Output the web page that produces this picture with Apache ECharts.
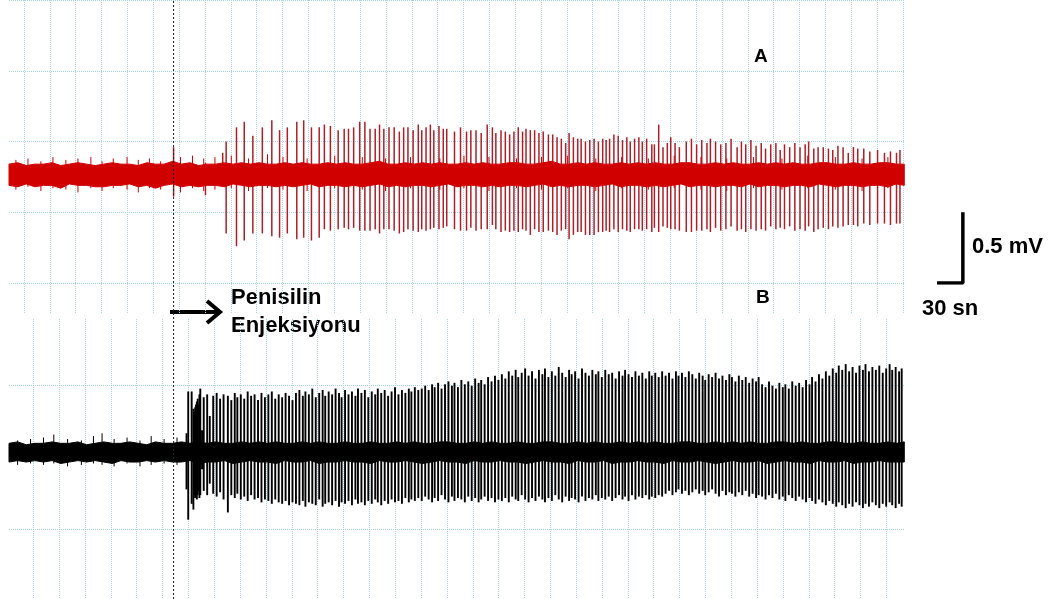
<!DOCTYPE html>
<html><head><meta charset="utf-8">
<script src="https://cdn.jsdelivr.net/npm/echarts@6/dist/echarts.min.js"></script>
<style>html,body{margin:0;padding:0;background:#fff}#c{width:1057px;height:599px}</style>
</head><body><div id="c"></div>
<script>
// ---- data (time in s, amplitude in mV relative to each trace's baseline) ----
const injectionT = 191;           // penicillin injection time (s)
const redBase = 0.77;             // trace A baseline (mV on panel A axis)
const blackBase = 0.535;          // trace B baseline (mV on panel B axis)
const scaleBarT = 1107;           // position of calibration bar (s)
const scaleBarMv = 0.5;           // calibration: 0.5 mV
const scaleBarSec = 30;           // calibration: 30 sn
const gridTicksX = 30;            // vertical grid every 30 s
const gridTicksY = 0.5;           // horizontal grid every 0.5 mV

// red trace spikes: [time, peak above baseline, trough below baseline]
const redSpikes = [
[191,.19,.16],[228,.08,.15],[248,.15,.07],
[252,.23,.42],[264,.33,.51],[273,.37,.47],[283,.27,.42],[294,.33,.42],[305,.38,.44],[314,.31,.45],[323,.33,.42],[334,.37,.46],[342,.38,.45],
[351,.33,.47],[360,.33,.45],[366,.35,.39],[373,.34,.40],[382,.31,.39],[389,.32,.38],[394,.32,.39],[400,.33,.38],[407,.37,.40],[413,.37,.40],
[419,.32,.40],[425,.32,.39],[430,.35,.42],[435,.32,.39],[441,.33,.39],[447,.33,.40],[453,.30,.42],[458,.33,.41],[463,.33,.39],[469,.31,.40],
[475,.35,.41],[479,.31,.39],[484,.33,.40],[489,.35,.39],[493,.31,.38],[499,.34,.39],[504,.32,.38],[508,.32,.37],
[517,.30,.39],[524,.33,.40],[531,.30,.40],[536,.31,.38],[542,.31,.40],[548,.29,.39],[555,.35,.39],[561,.33,.36],[565,.29,.39],[571,.31,.41],
[576,.30,.40],[581,.28,.41],[586,.30,.40],[591,.33,.41],[596,.30,.39],[600,.32,.40],[605,.31,.43],[610,.31,.39],[615,.29,.41],[620,.30,.41],
[626,.28,.40],[631,.28,.41],[636,.26,.43],[641,.25,.40],[646,.22,.39],[650,.29,.46],[655,.26,.43],[660,.25,.41],[664,.25,.41],[669,.23,.43],
[674,.24,.43],[679,.25,.43],[684,.23,.41],[689,.25,.41],[693,.24,.40],[697,.25,.41],[702,.28,.39],[707,.27,.41],[712,.24,.39],[717,.26,.40],
[721,.23,.41],[726,.25,.39],[731,.26,.39],[735,.23,.40],[740,.25,.39],[746,.21,.41],[749,.21,.38],[754,.35,.41],[759,.19,.37],[764,.22,.38],
[768,.26,.39],[773,.22,.39],[778,.19,.40],[786,.23,.41],[792,.25,.41],[798,.21,.40],[804,.24,.40],[810,.22,.39],[814,.25,.41],[820,.23,.38],
[826,.21,.40],[832,.22,.39],[838,.25,.37],[845,.19,.40],[850,.23,.39],[855,.21,.41],[861,.24,.39],[867,.20,.40],[873,.22,.39],[878,.18,.40],
[884,.21,.37],[890,.22,.39],[895,.17,.38],[900,.21,.39],[906,.19,.37],[912,.22,.40],[918,.19,.39],[924,.21,.40],[928,.23,.37],[934,.18,.41],
[939,.19,.39],[945,.19,.38],[951,.18,.39],[956,.17,.37],[962,.20,.38],[968,.19,.37],[974,.15,.36],[980,.19,.36],[985,.18,.37],[992,.18,.35],
[999,.16,.36],[1008,.17,.35],[1016,.15,.35],[1023,.16,.36],[1030,.15,.35],[1034,.17,.35]
];

// black trace spikes: [time, peak above baseline, trough below baseline]
const blackSpikes = [
[206,.13,.26],[208,.42,.47],[212,.42,.36],[214,.30,.40],[215,.28,.30],[216,.31,.32],[217,.33,.28],[218,.35,.33],[219,.37,.30],[220,.33,.27],
[221,.40,.32],[222,.44,.30],[224,.15,.12],
[226,.38,.27],[230,.40,.30],[233,.25,.22],[237,.39,.29],[241,.41,.31],[245,.37,.28],[249,.40,.33],[254,.39,.42],[258,.36,.30],[262,.41,.32],
[265,.38,.29],[269,.40,.33],[273,.37,.31],[277,.42,.34],[281,.39,.30],[285,.40,.33],[289,.36,.32],[293,.41,.35],[297,.38,.33],[301,.40,.34],
[305,.42,.36],[309,.37,.33],[313,.40,.35],[317,.38,.36],[321,.41,.34],[325,.39,.37],[329,.36,.35],
[333,.41,.36],[337,.43,.37],[341,.39,.34],[344,.42,.38],[348,.40,.35],[352,.44,.36],[356,.38,.37],[360,.41,.33],[364,.43,.38],[367,.39,.36],
[371,.42,.35],[375,.40,.37],[379,.44,.34],[383,.41,.38],[386,.38,.35],[390,.43,.36],[394,.40,.34],[398,.42,.37],[402,.39,.33],[405,.44,.36],
[409,.41,.35],[413,.43,.37],[417,.38,.34],[421,.42,.36],[425,.40,.33],[428,.44,.35],[432,.41,.37],[436,.43,.34],[440,.39,.36],[444,.42,.33],
[448,.45,.35],[452,.40,.34],[456,.43,.36],[460,.41,.32],[464,.44,.35],[467,.42,.33],[471,.45,.34],[475,.43,.32],
[479,.44,.34],[483,.46,.31],[487,.43,.33],[491,.47,.35],[494,.45,.32],[498,.48,.34],[502,.44,.30],[506,.47,.33],[510,.49,.35],[514,.46,.31],
[517,.48,.34],[521,.45,.32],[525,.50,.33],[529,.47,.35],[533,.49,.31],[537,.46,.34],[541,.51,.32],[545,.48,.35],[548,.50,.33],[552,.47,.31],
[556,.52,.34],[560,.49,.32],[564,.53,.35],[568,.50,.33],
[572,.54,.34],[576,.51,.32],[580,.56,.35],[584,.53,.31],[588,.57,.33],[591,.52,.34],[595,.55,.30],[599,.58,.33],[603,.53,.35],[607,.56,.32],
[611,.51,.34],[615,.57,.31],[619,.54,.33],[622,.58,.35],[626,.52,.32],[630,.56,.34],[634,.53,.30],[638,.59,.33],[642,.55,.35],[646,.52,.31],
[650,.57,.34],[653,.54,.32],[657,.56,.33],[661,.51,.35],[665,.58,.31],[669,.55,.34],[673,.53,.32],[677,.57,.33],[681,.54,.30],[684,.56,.34],
[688,.52,.32],[692,.57,.33],[696,.54,.31],[700,.55,.34],[704,.51,.32],[708,.56,.30],[712,.53,.33],[715,.57,.31],[719,.54,.34],[723,.52,.30],
[727,.56,.33],[731,.53,.31],[735,.55,.32],[739,.51,.30],[743,.56,.33],[746,.53,.31],[750,.55,.32],[754,.52,.30],[758,.56,.31],
[762,.53,.29],[766,.55,.27],[770,.51,.30],[774,.56,.28],[777,.53,.26],[781,.55,.29],[785,.52,.27],[789,.56,.30],[793,.54,.28],[797,.51,.26],
[801,.55,.29],[805,.53,.27],[808,.50,.30],[812,.54,.28],[816,.52,.26],[820,.55,.29],[824,.51,.31],[828,.53,.27],[832,.50,.30],[836,.54,.28],
[839,.52,.29],[843,.49,.31],[847,.53,.28],[851,.50,.30],[855,.52,.27],[859,.48,.31],[863,.51,.29],[867,.49,.32],[870,.52,.30],
[874,.47,.31],[878,.45,.33],[882,.49,.30],[886,.46,.32],[890,.44,.29],[894,.48,.33],[898,.45,.31],[901,.47,.34],[905,.44,.30],[909,.49,.32],
[913,.46,.34],[917,.48,.31],[921,.45,.33],[925,.50,.35],[929,.47,.32],[932,.52,.34],[936,.49,.36],[940,.54,.33],[944,.51,.35],[948,.56,.37],
[952,.53,.34],
[956,.58,.36],[960,.55,.38],[963,.60,.35],[967,.57,.37],[971,.61,.39],[975,.56,.36],[979,.59,.38],[983,.55,.35],[987,.60,.37],[991,.57,.39],
[994,.61,.36],[998,.56,.38],[1002,.59,.35],[1006,.57,.37],[1010,.60,.39],[1014,.55,.36],[1018,.58,.38],[1022,.61,.35],[1025,.57,.37],[1029,.59,.39],
[1033,.56,.36],[1036,.58,.38]
];

// small background-noise excursions: [time, up, down]
const redNoise = [
[8,.10,.11],[22,.11,.09],[37,.09,.12],[51,.12,.10],[66,.10,.11],[80,.11,.13],[95,.12,.10],[108,.09,.12],[121,.11,.10],[137,.12,.11],
[150,.10,.13],[163,.11,.10],[176,.09,.11],[199,.12,.13],[213,.13,.10],[226,.11,.12],[239,.12,.11],[258,.13,.10],[278,.11,.12],[300,.14,.10],
[318,.12,.11],[346,.11,.12],[378,.13,.10],[410,.12,.11],[437,.11,.12],[466,.12,.10],[500,.11,.11],[528,.13,.10],[557,.12,.12],[589,.11,.10],
[618,.12,.11],[648,.13,.10],[681,.11,.12],[711,.12,.10],[742,.11,.11],[772,.13,.10],[803,.12,.11],[833,.11,.12],[864,.12,.10],[897,.11,.11],
[927,.13,.10],[959,.12,.11],[990,.11,.12],[1020,.12,.10]
];
const blackNoise = [
[10,.08,.09],[25,.09,.08],[40,.10,.09],[52,.12,.08],[68,.09,.10],[84,.08,.09],[98,.11,.08],[108,.13,.09],[122,.09,.10],[137,.10,.08],
[152,.08,.10],[165,.11,.09],[180,.09,.08],[195,.10,.09]
];

// background-noise envelope sample times (s) and half-widths (mV)
const envT = [0,10,20,30,40,50,60,70,80,90,100,110,120,130,140,150,160,170,180,190,200,210,220,230,240,250,260,270,280,290,
300,310,320,330,340,350,360,370,380,390,400,410,420,430,440,450,460,470,480,490,500,510,520,530,540,550,560,570,580,590,
600,610,620,630,640,650,660,670,680,690,700,710,720,730,740,750,760,770,780,790,800,810,820,830,840,850,860,870,880,890,
900,910,920,930,940,950,960,970,980,990,1000,1010,1020,1030,1039];
const redHi = [
.07,.08,.06,.07,.07,.08,.06,.07,.08,.07,.06,.07,.08,.07,.07,
.06,.08,.07,.07,.09,.07,.08,.06,.07,.07,.08,.07,.08,.07,.08,
.07,.07,.08,.07,.08,.07,.07,.08,.07,.08,.07,.07,.08,.09,.07,
.07,.08,.07,.08,.07,.08,.07,.07,.08,.07,.08,.07,.07,.08,.08,
.07,.07,.08,.09,.07,.07,.08,.07,.08,.07,.07,.08,.07,.08,.07,
.08,.07,.07,.08,.08,.07,.07,.08,.07,.08,.07,.07,.08,.07,.08,
.07,.08,.07,.07,.08,.08,.07,.07,.08,.07,.07,.08,.08,.07,.07];
const redLo = [
.08,.09,.07,.09,.08,.08,.10,.07,.08,.08,.09,.09,.08,.08,.07,
.09,.08,.10,.08,.07,.09,.08,.09,.08,.08,.09,.07,.08,.09,.08,
.08,.09,.08,.09,.08,.07,.09,.08,.08,.09,.08,.09,.08,.07,.09,
.08,.09,.08,.08,.09,.08,.07,.09,.08,.08,.09,.08,.09,.08,.08,
.09,.08,.07,.09,.08,.09,.08,.08,.09,.08,.07,.09,.08,.08,.09,
.08,.09,.08,.07,.09,.08,.08,.09,.08,.08,.09,.07,.09,.08,.08,
.09,.08,.08,.09,.07,.08,.09,.08,.08,.09,.08,.08,.09,.07,.08];
const blackHi = [
.06,.07,.05,.06,.06,.07,.06,.06,.07,.05,.06,.07,.06,.06,.07,
.06,.05,.07,.06,.06,.07,.06,.07,.06,.07,.06,.06,.07,.06,.07,
.06,.07,.06,.06,.07,.06,.07,.06,.06,.07,.06,.06,.07,.06,.06,
.07,.06,.07,.06,.06,.07,.07,.06,.06,.07,.06,.07,.06,.06,.07,
.06,.06,.07,.07,.06,.06,.07,.06,.07,.06,.06,.07,.06,.07,.06,
.07,.06,.06,.07,.07,.06,.06,.07,.06,.07,.06,.07,.06,.06,.07,
.07,.06,.07,.06,.06,.07,.07,.06,.06,.07,.06,.06,.07,.06,.07];
const blackLo = [
.07,.06,.07,.06,.07,.06,.08,.07,.06,.07,.06,.07,.08,.06,.07,
.07,.06,.07,.06,.07,.07,.06,.08,.07,.07,.06,.08,.07,.06,.07,
.07,.08,.06,.07,.07,.06,.08,.07,.07,.06,.07,.07,.08,.06,.07,
.07,.06,.07,.08,.07,.06,.07,.07,.08,.06,.07,.07,.06,.07,.07,
.08,.07,.06,.07,.07,.08,.06,.07,.07,.06,.08,.07,.07,.06,.07,
.07,.08,.06,.07,.07,.06,.07,.08,.07,.06,.07,.07,.06,.08,.07,
.06,.07,.07,.08,.06,.07,.07,.06,.08,.07,.07,.06,.07,.07,.07];

// text
const labelA = 'A', labelB = 'B';
const injLine1 = 'Penisilin', injLine2 = 'Enjeksiyonu';
const scaleV = '0.5 mV', scaleH = '30 sn';

// ---- chart ----
const RED = '#d10000', RED_SPIKE = '#ad2028', BLACK = '#000', GRIDC = '#a6d6e8';
const FONT = '"Liberation Sans", Arial, sans-serif';

function spikeRenderer(base, color, w) {
  return function (params, api) {
    const t = api.value(0), up = api.value(1), dn = api.value(2);
    const a = api.coord([t, base + up]), b = api.coord([t, base - dn]);
    return { type: 'line', shape: { x1: a[0], y1: a[1], x2: b[0], y2: b[1] },
      style: { stroke: color, lineWidth: w } };
  };
}
function bandRenderer(base, hi, lo, color) {
  return function (params, api) {
    const n = Math.min(envT.length, hi.length, lo.length);
    const pts = [];
    for (let i = 0; i < n; i++) pts.push(api.coord([envT[i], base + hi[i]]));
    for (let i = n - 1; i >= 0; i--) pts.push(api.coord([envT[i], base - lo[i]]));
    return { type: 'polygon', shape: { points: pts }, style: { fill: color, stroke: color, lineWidth: 1 } };
  };
}
const hiddenAxis = { show: false };
const gridSplit = { show: true, lineStyle: { color: GRIDC, type: 'dotted', width: 1 } };
const noDeco = { axisLine: { show: false }, axisTick: { show: false }, axisLabel: { show: false } };
const pxPerSec = 25.85 / 30;

const chart = echarts.init(document.getElementById('c'), null, { renderer: 'canvas' });
chart.setOption({
  animation: false,
  backgroundColor: '#fff',
  grid: [
    { left: 9, top: -5, width: 1040 * pxPerSec, height: 288 },
    { left: 24, top: 0, width: 1020 * pxPerSec, height: 313 },
    { left: 9, top: 385, width: 1040 * pxPerSec, height: 144 },
    { left: 33.3, top: 319, width: 990 * pxPerSec, height: 281 },
    { left: 9, top: 0, width: 1040 * pxPerSec, height: 599 },
    { left: 9, top: -5, width: 1200 * pxPerSec, height: 288 }
  ],
  xAxis: [
    Object.assign({ gridIndex: 0, type: 'value', min: 0, max: 1040 }, hiddenAxis),
    Object.assign({ gridIndex: 1, type: 'value', min: 0, max: 1020, interval: gridTicksX, splitLine: gridSplit }, noDeco),
    Object.assign({ gridIndex: 2, type: 'value', min: 0, max: 1040 }, hiddenAxis),
    Object.assign({ gridIndex: 3, type: 'value', min: 0, max: 990, interval: gridTicksX, splitLine: gridSplit }, noDeco),
    Object.assign({ gridIndex: 4, type: 'value', min: 0, max: 1040 }, hiddenAxis),
    Object.assign({ gridIndex: 5, type: 'value', min: 0, max: 1200 }, hiddenAxis)
  ],
  yAxis: [
    Object.assign({ gridIndex: 0, type: 'value', min: 0, max: 2, interval: gridTicksY, splitLine: gridSplit }, noDeco),
    Object.assign({ gridIndex: 1, type: 'value', min: 0, max: 1 }, hiddenAxis),
    Object.assign({ gridIndex: 2, type: 'value', min: 0, max: 1, interval: gridTicksY, splitLine: gridSplit }, noDeco),
    Object.assign({ gridIndex: 3, type: 'value', min: 0, max: 1 }, hiddenAxis),
    Object.assign({ gridIndex: 4, type: 'value', min: 0, max: 1 }, hiddenAxis),
    Object.assign({ gridIndex: 5, type: 'value', min: 0, max: 2 }, hiddenAxis)
  ],
  series: [
    { type: 'custom', xAxisIndex: 0, yAxisIndex: 0, data: redSpikes, encode: { x: 0, y: 1 },
      renderItem: spikeRenderer(redBase, RED_SPIKE, 1.5), z: 2, silent: true },
    { type: 'custom', xAxisIndex: 0, yAxisIndex: 0, data: redNoise, encode: { x: 0, y: 1 },
      renderItem: spikeRenderer(redBase, RED, 1), z: 3, silent: true },
    { type: 'custom', xAxisIndex: 0, yAxisIndex: 0, data: [[0, redBase]], encode: { x: 0, y: 1 },
      renderItem: bandRenderer(redBase, redHi, redLo, RED), z: 3, silent: true },
    { type: 'custom', xAxisIndex: 2, yAxisIndex: 2, data: blackSpikes, encode: { x: 0, y: 1 },
      renderItem: spikeRenderer(blackBase, '#000', 1.9), z: 2, silent: true },
    { type: 'custom', xAxisIndex: 2, yAxisIndex: 2, data: blackNoise, encode: { x: 0, y: 1 },
      renderItem: spikeRenderer(blackBase, BLACK, 1), z: 3, silent: true },
    { type: 'custom', xAxisIndex: 2, yAxisIndex: 2, data: [[0, blackBase]], encode: { x: 0, y: 1 },
      renderItem: bandRenderer(blackBase, blackHi, blackLo, BLACK), z: 3, silent: true },
    { type: 'line', xAxisIndex: 4, yAxisIndex: 4, data: [[injectionT, 0], [injectionT, 1]], symbol: 'none',
      lineStyle: { color: '#222', width: 1, type: [2, 2] }, z: 5, silent: true },
    { type: 'line', xAxisIndex: 5, yAxisIndex: 5,
      data: [[scaleBarT - scaleBarSec, 0], [scaleBarT, 0], [scaleBarT, scaleBarMv]], symbol: 'none',
      lineStyle: { color: '#000', width: 3.5 }, z: 5, silent: true }
  ],
  graphic: [
    { type: 'text', x: 754, y: 57, style: { text: labelA, font: 'bold 19px ' + FONT, fill: '#000', verticalAlign: 'middle', textVerticalAlign: 'middle' } },
    { type: 'text', x: 756, y: 298, style: { text: labelB, font: 'bold 19px ' + FONT, fill: '#000', verticalAlign: 'middle', textVerticalAlign: 'middle' } },
    { type: 'text', x: 231, y: 298, style: { text: injLine1, font: 'bold 22px ' + FONT, fill: '#000', verticalAlign: 'middle', textVerticalAlign: 'middle' } },
    { type: 'text', x: 231, y: 326, style: { text: injLine2, font: 'bold 22px ' + FONT, fill: '#000', verticalAlign: 'middle', textVerticalAlign: 'middle' } },
    { type: 'text', x: 972, y: 247, style: { text: scaleV, font: 'bold 22px ' + FONT, fill: '#000', verticalAlign: 'middle', textVerticalAlign: 'middle' } },
    { type: 'text', x: 922, y: 309, style: { text: scaleH, font: 'bold 22px ' + FONT, fill: '#000', verticalAlign: 'middle', textVerticalAlign: 'middle' } },
    { type: 'line', shape: { x1: 170, y1: 312, x2: 219, y2: 312 }, style: { stroke: '#000', lineWidth: 4 } },
    { type: 'polyline', shape: { points: [[207, 301], [220, 312], [207, 323]] }, style: { stroke: '#000', lineWidth: 4, fill: null } }
  ]
});
</script></body></html>
